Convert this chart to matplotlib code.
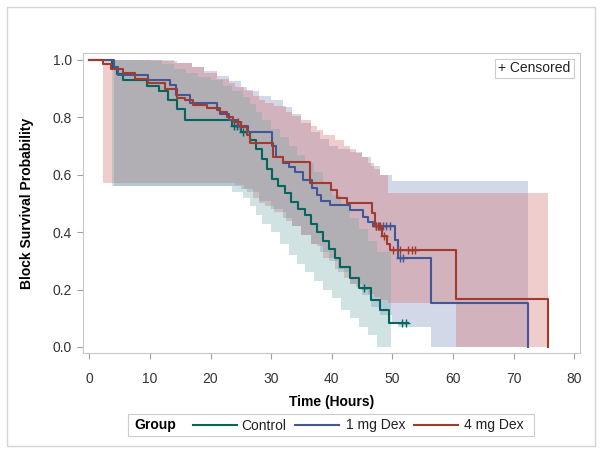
import numpy as np
import matplotlib
matplotlib.use('Agg')
import matplotlib.pyplot as plt
from matplotlib.patches import Rectangle
from matplotlib.lines import Line2D

plt.rcParams['font.family'] = ['Liberation Sans', 'DejaVu Sans']

# Kaplan-Meier steps (time, survival from that time on)
ctl_t = [0, 3.8, 4.5, 5.5, 9.5, 11.5, 13.0, 14.5, 15.8, 23.5, 25.0, 26.5, 27.5, 28.5, 29.3, 30.2,
         31.2, 32.2, 33.3, 34.5, 35.5, 36.5, 37.5, 38.5, 39.5, 40.5, 41.3, 43.0, 44.5, 46.5, 48.0,
         49.5, 52.6]
ctl_s = [1.0, 0.975, 0.95, 0.93, 0.91, 0.89, 0.86, 0.83, 0.79, 0.77, 0.75, 0.72, 0.69, 0.655, 0.62,
         0.585, 0.56, 0.535, 0.505, 0.48, 0.46, 0.43, 0.40, 0.37, 0.34, 0.31, 0.28, 0.24, 0.205, 0.165,
         0.13, 0.085, 0.085]
ctl_cens = [23.8, 24.3, 24.8, 25.3, 45.3, 51.5, 52.3]

blu_t = [0, 4.0, 4.7, 9.7, 13.3, 14.3, 16.6, 21.0, 21.6, 23.0, 24.5, 26.2, 30.1, 30.8, 32.0, 33.0,
         34.0, 35.3, 36.7, 37.5, 38.3, 39.7, 43.0, 45.2, 46.0, 46.8, 50.5, 51.0, 56.4, 72.4]
blu_s = [1.0, 0.975, 0.948, 0.93, 0.913, 0.878, 0.85, 0.826, 0.81, 0.79, 0.77, 0.748, 0.70, 0.66,
         0.64, 0.627, 0.61, 0.58, 0.554, 0.53, 0.51, 0.495, 0.477, 0.453, 0.436, 0.42, 0.373, 0.31,
         0.154, 0.0]
blu_cens = [24.9, 47.3, 47.8, 48.4, 49.0, 49.6, 51.3, 51.8]

red_t = [0, 2.2, 3.5, 5.6, 7.5, 9.7, 12.5, 14.5, 15.8, 17.1, 19.4, 21.6, 22.7, 23.7, 25.0, 26.0,
         26.5, 30.3, 32.0, 36.4, 39.9, 40.9, 42.5, 46.6, 47.1, 48.2, 49.1, 49.6, 60.5, 75.7]
red_s = [1.0, 0.985, 0.97, 0.955, 0.934, 0.92, 0.9, 0.867, 0.86, 0.843, 0.833, 0.819, 0.80, 0.784,
         0.765, 0.74, 0.71, 0.662, 0.645, 0.57, 0.547, 0.52, 0.50, 0.466, 0.42, 0.385, 0.36, 0.338,
         0.168, 0.0]
red_cens = [24.6, 47.3, 47.6, 47.9, 48.6, 50.1, 51.3, 52.5, 53.2, 53.8]

# confidence bands (time, lower, upper)
ctl_bt = [3.8, 10, 12, 14, 16, 18, 20, 22, 23.5, 25.4, 26.5, 27.5, 28.5, 30, 31.5, 33, 34.3, 35.5,
          37, 38.5, 40, 41.5, 43, 44.5, 46, 47.5, 49.7]
ctl_lo = [0.56, 0.56, 0.56, 0.56, 0.56, 0.56, 0.56, 0.56, 0.54, 0.52, 0.49, 0.46, 0.43, 0.40, 0.36,
          0.32, 0.29, 0.26, 0.23, 0.20, 0.17, 0.13, 0.10, 0.07, 0.04, 0.0, 0.0]
ctl_up = [1.0, 0.995, 0.985, 0.97, 0.955, 0.94, 0.93, 0.91, 0.89, 0.87, 0.845, 0.82, 0.79, 0.76,
          0.73, 0.70, 0.67, 0.64, 0.61, 0.57, 0.53, 0.49, 0.45, 0.41, 0.37, 0.33, 0.33]

blu_bt = [4.0, 14, 17, 19, 21, 23, 25, 26, 28, 30, 32, 33.5, 35, 36.5, 38, 39.5, 41, 43, 45, 46.5,
          48, 50, 51, 56.4, 72.4]
blu_lo = [0.56, 0.56, 0.56, 0.56, 0.56, 0.56, 0.55, 0.54, 0.51, 0.48, 0.45, 0.42, 0.39, 0.36, 0.33,
          0.30, 0.26, 0.22, 0.18, 0.14, 0.11, 0.08, 0.07, 0.0, 0.0]
blu_up = [1.0, 0.99, 0.975, 0.96, 0.945, 0.925, 0.905, 0.89, 0.875, 0.86, 0.835, 0.81, 0.78, 0.75,
          0.725, 0.70, 0.69, 0.68, 0.66, 0.63, 0.60, 0.578, 0.578, 0.578, 0.578]

red_bt = [2.2, 12, 14.5, 17, 19, 21, 23, 24, 25.5, 27, 28, 29, 30.5, 32.5, 33.5, 35, 36.5, 37.5,
          38.6, 40.5, 42, 43, 44, 45, 46, 47, 48, 49.3, 60.5, 75.7]
red_lo = [0.57, 0.57, 0.57, 0.57, 0.57, 0.57, 0.57, 0.565, 0.55, 0.52, 0.50, 0.49, 0.47, 0.44, 0.42,
          0.39, 0.36, 0.35, 0.31, 0.27, 0.24, 0.22, 0.21, 0.20, 0.185, 0.175, 0.165, 0.153, 0.0, 0.0]
red_up = [1.0, 0.995, 0.99, 0.975, 0.955, 0.935, 0.92, 0.905, 0.895, 0.875, 0.86, 0.85, 0.84, 0.82,
          0.805, 0.79, 0.77, 0.755, 0.74, 0.72, 0.70, 0.69, 0.675, 0.66, 0.64, 0.62, 0.60, 0.535,
          0.535, 0.535]

groups = ['Control', '1 mg Dex', '4 mg Dex']
line_colors = ['#01665E', '#445694', '#A23A2E']
fill_colors = ['#66A5A0', '#6F7EB3', '#D05B5B']

W, H = 602, 453


def fx(x):
    return x / W


def fy(y):
    return 1 - y / H


fig = plt.figure(figsize=(W / 100, H / 100), dpi=100)
ax = fig.add_axes([fx(83), fy(353), fx(580) - fx(83), fy(53) - fy(353)])

bands = [(ctl_bt, ctl_lo, ctl_up), (blu_bt, blu_lo, blu_up), (red_bt, red_lo, red_up)]
curves = [(ctl_t, ctl_s, ctl_cens), (blu_t, blu_s, blu_cens), (red_t, red_s, red_cens)]

# blue, red, then teal on top gives the greyish overlap
for i in [1, 2, 0]:
    bt, lo, up = bands[i]
    ax.fill_between(bt, lo, up, step='post', color=fill_colors[i], alpha=0.3, lw=0)

for (t, s, cens), lc in zip(curves, line_colors):
    ax.step(t, s, where='post', color=lc, lw=1.5)
    t = np.array(t)
    s = np.array(s)
    idx = np.searchsorted(t, cens, side='right') - 1
    ax.plot(cens, s[idx], '+', ms=6, mew=1.0, color=lc)

ax.set_xlim(-1.04, 80.94)
ax.set_ylim(-0.021, 1.024)
ax.set_xticks(np.arange(0, 81, 10))
ax.set_yticks(np.arange(0, 1.01, 0.2))
ax.set_yticklabels(['%.1f' % v for v in np.arange(0, 1.01, 0.2)])
ax.tick_params(axis='both', length=4, color='#a0a0a0', labelsize=10, labelcolor='#333333')
ax.tick_params(axis='x', pad=10)
ax.tick_params(axis='y', pad=4)
for sp in ax.spines.values():
    sp.set_color('#c8c8c8')

fig.text(fx(331.5), fy(402), 'Time (Hours)', ha='center', va='center', fontsize=10,
         fontweight='bold')
fig.text(fx(27), fy(203), 'Block Survival Probability', ha='center', va='center', fontsize=10,
         fontweight='bold', rotation=90)

# censored note box
ax.add_artist(Rectangle((fx(495), fy(78)), fx(574) - fx(495), fy(59) - fy(78),
                        transform=fig.transFigure, fill=False, ec='#cccccc', lw=0.8))
fig.text(fx(498), fy(68.5), '+ Censored', ha='left', va='center', fontsize=10, color='#222222')

# legend
fig.add_artist(Rectangle((fx(128), fy(436)), fx(534) - fx(128), fy(414) - fy(436),
                         transform=fig.transFigure, fill=False, ec='#cccccc', lw=0.8))
fig.text(fx(134), fy(425.5), 'Group', ha='left', va='center', fontsize=10, fontweight='bold')
leg_x = [(193, 237, 241), (295, 339, 346), (414, 458, 464)]
for (x0, x1, xt), lc, g in zip(leg_x, line_colors, groups):
    fig.add_artist(Line2D([fx(x0), fx(x1)], [fy(425), fy(425)], transform=fig.transFigure,
                          color=lc, lw=1.5))
    fig.text(fx(xt), fy(425.5), g, ha='left', va='center', fontsize=10, color='#222222')

# outer border
fig.add_artist(Rectangle((fx(7), fy(446)), fx(595) - fx(7), fy(7) - fy(446),
                         transform=fig.transFigure, fill=False, ec='#d4d4d4', lw=1))

fig.savefig('out.png', dpi=100)
